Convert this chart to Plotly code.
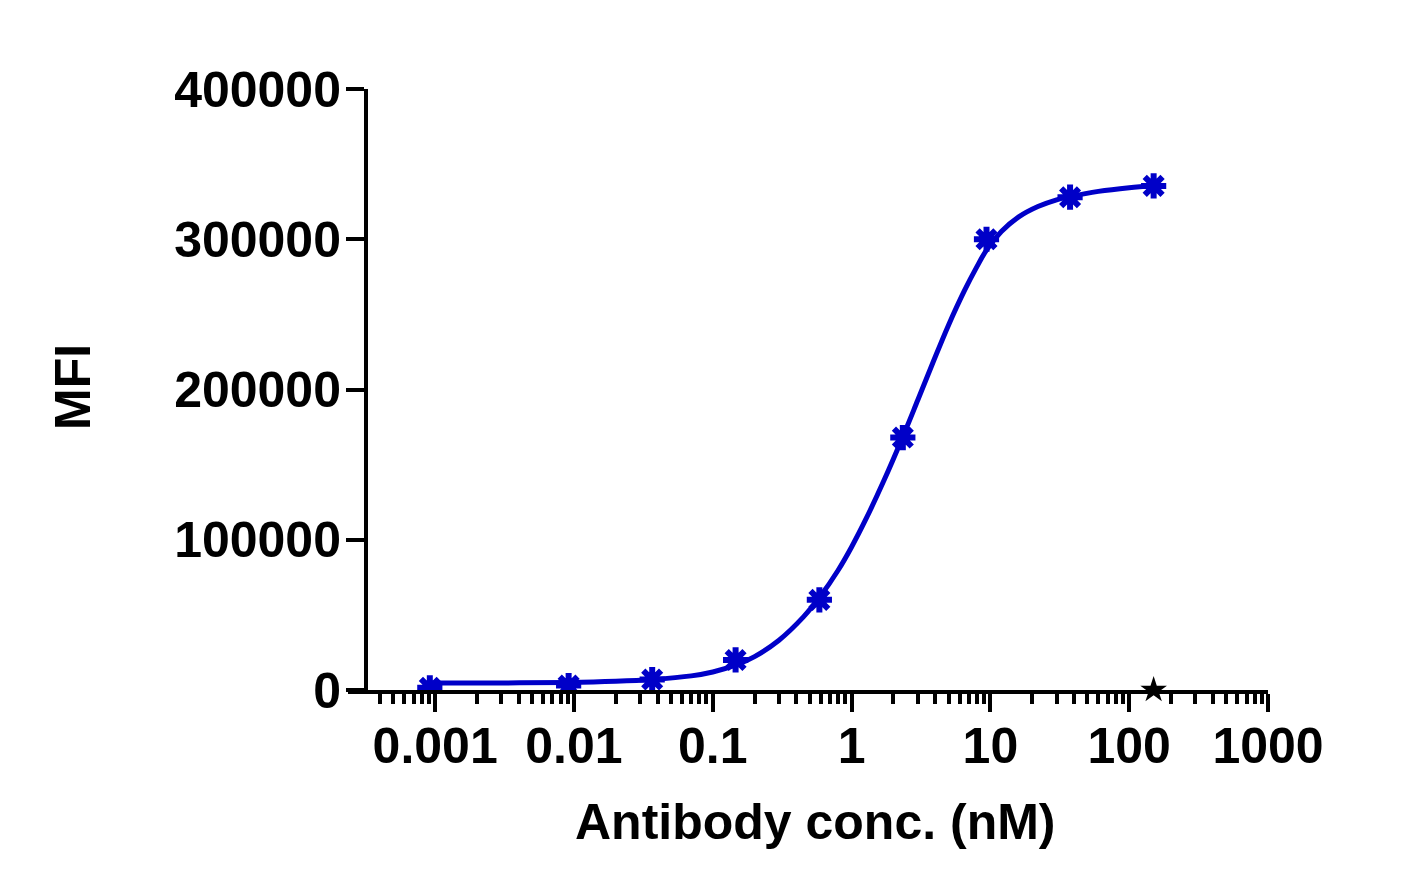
import plotly.graph_objects as go

# measured points (antibody conc. in nM, MFI)
conc_nm = [0.000915, 0.00915, 0.0366, 0.146, 0.586, 2.34, 9.375, 37.5, 150]
mfi = [1500, 3000, 7000, 20000, 60000, 168000, 300000, 328000, 335500]

# fitted curve
fit_x = [0.000915, 0.003, 0.00915, 0.02, 0.0366, 0.07, 0.1, 0.146, 0.2, 0.3, 0.45, 0.586,
         0.8, 1.0, 1.28, 1.7, 2.34, 3.0, 3.85, 5.0, 6.5, 8.0, 9.375, 12, 16, 22, 30,
         37.5, 60, 100, 150]
fit_y = [4600, 4700, 5000, 5800, 7000, 9400, 12000, 16500, 22250, 33150, 48650, 61500,
         79700, 95200, 114500, 138900, 168600, 193000, 217800, 243000, 265800, 281800, 292800,
         305100, 314850, 321750, 326250, 328350, 331850, 334300, 335600]

# hidden series marker sitting on the axis
star_x = [150]
star_y = [0]

x_ticks = [0.001, 0.01, 0.1, 1, 10, 100, 1000]
x_ticktext = ["0.001", "0.01", "0.1", "1", "10", "100", "1000"]
y_ticks = [0, 100000, 200000, 300000, 400000]

# minor log ticks (2..9 per decade), none left of the y axis
minor_vals = [k * 10.0 ** d for d in range(-4, 3) for k in range(2, 10) if k * 10.0 ** d > 0.00035]

BLUE = "#0000C8"
FONT = dict(family="Arial, 'Liberation Sans', sans-serif", size=50, color="black", weight="bold")

fig = go.Figure()
fig.add_trace(go.Scatter(x=fit_x, y=fit_y, mode="lines", line=dict(color=BLUE, width=5, shape="spline"),
                         showlegend=False, hoverinfo="skip"))
fig.add_trace(go.Scatter(x=conc_nm, y=mfi, mode="markers",
                         marker=dict(symbol="asterisk-open", size=21, color=BLUE, line=dict(color=BLUE, width=6)),
                         showlegend=False))
fig.add_trace(go.Scatter(x=conc_nm, y=mfi, mode="markers",
                         marker=dict(symbol="circle", size=14, color=BLUE),
                         showlegend=False, hoverinfo="skip"))
fig.add_trace(go.Scatter(x=star_x, y=star_y, mode="markers",
                         marker=dict(symbol="star", size=20, color="black"), showlegend=False, cliponaxis=False))

# axis titles
fig.add_annotation(text="Antibody conc. (nM)", xref="paper", yref="paper", x=(815 - 348) / 920, y=-132 / 601,
                   xanchor="center", yanchor="middle", showarrow=False, font=FONT)
fig.add_annotation(text="MFI", xref="paper", yref="paper", x=(73 - 348) / 920, y=303 / 601, textangle=-90,
                   xanchor="center", yanchor="middle", showarrow=False, font=FONT)

fig.update_layout(
    width=1421, height=892,
    margin=dict(l=340, r=161, t=81, b=210),
    plot_bgcolor="white", paper_bgcolor="white",
    font=FONT,
    xaxis=dict(type="log", range=[-3.628, 3.0], showgrid=False, zeroline=False,
               showline=True, linewidth=4, linecolor="black",
               ticks="outside", ticklen=18, tickwidth=4, tickcolor="black",
               tickvals=x_ticks, ticktext=x_ticktext, tickfont=FONT, ticklabelstandoff=-9,
               minor=dict(tickvals=minor_vals, ticks="outside", ticklen=10, tickwidth=4, tickcolor="black")),
    yaxis=dict(range=[0, 400000], anchor="free", position=18 / 920, showgrid=False, zeroline=False,
               showline=True, linewidth=4, linecolor="black",
               ticks="outside", ticklen=18, tickwidth=4, tickcolor="black",
               tickvals=y_ticks, tickformat="d", tickfont=FONT, ticklabelstandoff=-5),
)

fig.write_html("out.html")
